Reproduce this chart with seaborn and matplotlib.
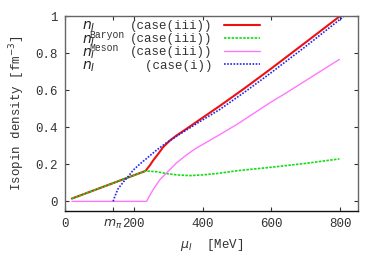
import numpy as np
import pandas as pd
import seaborn as sns
import matplotlib.pyplot as plt

# Data (mu_I in MeV, density in fm^-3)
mu_total = [20, 234, 247, 256, 271, 285, 305, 324, 353, 392, 451, 525, 600, 700, 800]
n_total = [0.015, 0.164, 0.195, 0.220, 0.256, 0.292, 0.328, 0.355, 0.391, 0.441,
           0.516, 0.614, 0.717, 0.858, 1.0]

mu_baryon = [20, 234, 266, 295, 324, 363, 402, 441, 504, 600, 700, 798]
n_baryon = [0.015, 0.164, 0.160, 0.150, 0.143, 0.139, 0.143, 0.150, 0.166, 0.184,
            0.205, 0.229]

mu_meson = [20, 237, 256, 276, 300, 324, 353, 378, 450, 504, 596, 644, 720, 798]
n_meson = [0, 0, 0.063, 0.117, 0.162, 0.207, 0.250, 0.283, 0.360, 0.420, 0.532,
           0.586, 0.675, 0.766]

mu_case1 = [140, 145, 154, 169, 184, 198, 218, 237, 266, 295, 324, 392, 451, 525,
            600, 700, 812]
n_case1 = [0, 0.027, 0.067, 0.103, 0.135, 0.168, 0.202, 0.231, 0.276, 0.316, 0.351,
           0.430, 0.497, 0.593, 0.695, 0.836, 1.0]

xticks = [0, 140, 200, 400, 600, 800]
xticklabels = ["0", r"$m_\pi$", "200", "400", "600", "800"]
yticks = [0, 0.2, 0.4, 0.6, 0.8, 1]
yticklabels = ["0", "0.2", "0.4", "0.6", "0.8", "1"]

sns.set_style("ticks")
plt.rcParams["font.family"] = ["Liberation Mono", "DejaVu Sans"]
plt.rcParams["mathtext.fontset"] = "dejavusans"

fig = plt.figure(figsize=(3.82, 2.67), dpi=100)
ax = fig.add_axes([65 / 382, 1 - 211 / 267, 293 / 382, 195 / 267])

sns.lineplot(x=mu_total, y=n_total, ax=ax, color="#ee1111", lw=1.5, label="(case(iii))")
sns.lineplot(x=mu_baryon, y=n_baryon, ax=ax, color="#11dd11", lw=1.2,
             linestyle=(0, (1.5, 0.8)), label="(case(iii))")
sns.lineplot(x=mu_meson, y=n_meson, ax=ax, color="#ff77ff", lw=1.0, label="(case(iii))")
sns.lineplot(x=mu_case1, y=n_case1, ax=ax, color="#2222ee", lw=1.2,
             linestyle=(0, (1, 0.9)), label="  (case(i))")

ax.set_xlim(0, 852)
ax.set_ylim(-0.052, 1.0)
ax.set_xticks(xticks)
ax.set_xticklabels(xticklabels)
ax.set_yticks(yticks)
ax.set_yticklabels(yticklabels)
ax.tick_params(direction="in", top=True, right=True, length=3, width=0.8,
               labelsize=9, colors="#333333", pad=5)
for s in ax.spines.values():
    s.set_color("#666666")
    s.set_linewidth(1.0)
ax.spines["bottom"].set_color("#111111")

ax.set_xlabel(r"$\mu_I$  [MeV]", fontsize=9, color="#333333", labelpad=4)
ax.set_ylabel(r"Isopin density [fm$^{-3}$]", fontsize=9, color="#333333", labelpad=6)

leg = ax.legend(loc="upper right", bbox_to_anchor=(260 / 382, 1 - 20 / 267),
                bbox_transform=fig.transFigure, frameon=False, markerfirst=False,
                handlelength=2.9, handletextpad=0.9, labelspacing=0.1,
                borderpad=0, borderaxespad=0, prop={"family": "Liberation Mono", "size": 9})
for t in leg.get_texts():
    t.set_color("#333333")

# symbol part of the key titles
for py in [27, 41, 54, 67]:
    fig.text(82 / 382, 1 - py / 267, r"$n_I$", fontsize=10, va="center", ha="left",
             color="#222222")
fig.text(89 / 382, 1 - 35 / 267, "Baryon", fontsize=7, va="center", color="#333333")
fig.text(89 / 382, 1 - 48 / 267, "Meson", fontsize=7, va="center", color="#333333")

fig.savefig("out.png", dpi=100)
